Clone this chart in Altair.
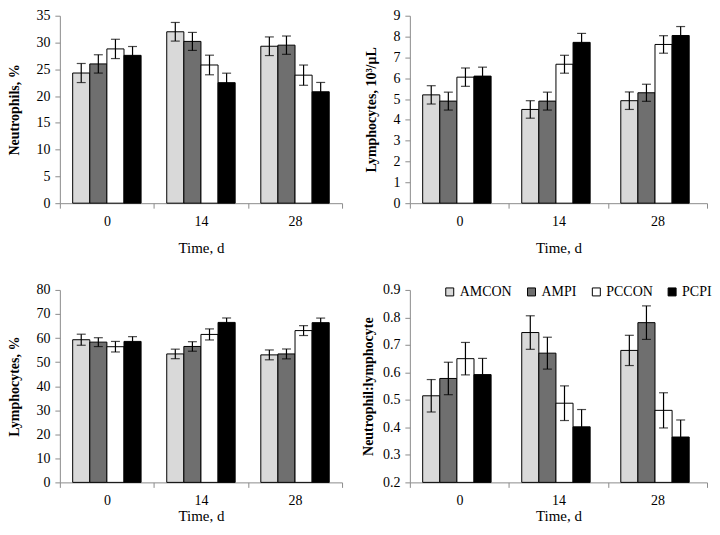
import altair as alt
import pandas as pd

days = ["0", "14", "28"]
groups = ["AMCON", "AMPI", "PCCON", "PCPI"]
colors = ["#d9d9d9", "#6f6f6f", "#ffffff", "#000000"]

# values per day (rows) and group (columns)
neut_pct = [[24.3, 26.0, 28.8, 27.6], [32.0, 30.2, 25.8, 22.5], [29.3, 29.5, 23.9, 20.8]]
neut_pct_se = [[1.78, 1.71, 1.80, 1.65], [1.74, 1.68, 1.83, 1.77], [1.74, 1.71, 1.89, 1.74]]

lym_count = [[5.20, 4.90, 6.05, 6.10], [4.50, 4.90, 6.67, 7.72], [4.92, 5.30, 7.62, 8.05]]
lym_count_se = [[0.44, 0.43, 0.44, 0.43], [0.42, 0.43, 0.43, 0.43], [0.42, 0.41, 0.42, 0.43]]

lym_pct = [[59.3, 58.3, 56.4, 58.6], [53.4, 56.5, 61.5, 66.5], [53.0, 53.4, 63.1, 66.4]]
lym_pct_se = [[2.30, 1.84, 2.19, 1.98], [1.98, 1.98, 2.30, 1.84], [2.05, 2.05, 2.05, 1.90]]

nl_ratio = [[0.515, 0.578, 0.650, 0.592], [0.745, 0.670, 0.488, 0.402], [0.680, 0.781, 0.462, 0.365]]
nl_ratio_se = [[0.059, 0.059, 0.059, 0.059], [0.061, 0.058, 0.063, 0.063], [0.055, 0.061, 0.064, 0.062]]

FONT = "Liberation Serif"
AXC = "#8c8c8c"


def panel(vals, errs, ytitle, ymin, ymax, ticks, fmt, w, h, legend=None,
          xlabpad=6, xtitlepad=12, ytitlepad=12):
    rows = []
    for i, d in enumerate(days):
        for j, g in enumerate(groups):
            v = vals[i][j]
            e = errs[i][j]
            rows.append(dict(day=d, group=g, value=v, lo=v - e, hi=v + e, base=ymin))
    df = pd.DataFrame(rows)

    xaxis = alt.Axis(labelAngle=0, tickBand="extent", domainColor=AXC, tickColor=AXC,
                     tickSize=5, labelPadding=xlabpad, titlePadding=xtitlepad,
                     labelFont=FONT, labelFontSize=14, labelColor="black",
                     titleFont=FONT, titleFontSize=15, titleFontWeight="normal",
                     titleColor="black", grid=False)
    x = alt.X("day:N", sort=days, title="Time, d",
              scale=alt.Scale(paddingInner=0, paddingOuter=0), axis=xaxis)
    xo = alt.XOffset("group:N", sort=groups,
                     scale=alt.Scale(paddingInner=0, paddingOuter=0.75))
    yscale = alt.Scale(domain=[ymin, ymax], nice=False, zero=False)
    yaxis = alt.Axis(values=ticks, format=fmt, domainColor=AXC, tickColor=AXC,
                     tickSize=5, labelPadding=5, titlePadding=ytitlepad,
                     labelFont=FONT, labelFontSize=14, labelColor="black",
                     titleFont=FONT, titleFontSize=14, titleFontWeight="bold",
                     titleColor="black", grid=False)

    def Y(f):
        return alt.Y(f, scale=yscale, title=ytitle, axis=yaxis)

    color = alt.Color("group:N", sort=groups,
                      scale=alt.Scale(domain=groups, range=colors),
                      legend=legend)
    base = alt.Chart(df)
    bars = base.mark_bar(stroke="black", strokeWidth=1).encode(
        x=x, xOffset=xo, y=Y("value:Q"), y2="base:Q", color=color)
    rule = base.mark_rule(color="black", strokeWidth=1.2).encode(
        x=x, xOffset=xo, y=Y("lo:Q"), y2="hi:Q")
    cap_lo = base.mark_tick(color="black", size=9, thickness=1.2, orient="horizontal").encode(
        x=x, xOffset=xo, y=Y("lo:Q"))
    cap_hi = base.mark_tick(color="black", size=9, thickness=1.2, orient="horizontal").encode(
        x=x, xOffset=xo, y=Y("hi:Q"))
    return alt.layer(bars, rule, cap_lo, cap_hi).properties(width=w, height=h)


leg = alt.Legend(orient="none", legendX=33, legendY=-5, direction="horizontal", title=None,
                 symbolType="square", symbolSize=64, symbolStrokeColor="black",
                 symbolStrokeWidth=1, labelFont=FONT, labelFontSize=14, labelColor="black",
                 columnPadding=12, labelOffset=3)

p1 = panel(neut_pct, neut_pct_se, "Neutrophils, %", 0, 35, list(range(0, 36, 5)), "d", 283, 188,
           ytitlepad=14)
p2 = panel(lym_count, lym_count_se, "Lymphocytes, 10³/μL", 0, 9, list(range(0, 10)), "d", 298, 188,
           ytitlepad=14)
p3 = panel(lym_pct, lym_pct_se, "Lymphocytes, %", 0, 80, list(range(0, 81, 10)), "d", 283, 193,
           xlabpad=6, xtitlepad=1, ytitlepad=14)
p4 = panel(nl_ratio, nl_ratio_se, "Neutrophil:lymphocyte", 0.2, 0.9,
           [0.2, 0.3, 0.4, 0.5, 0.6, 0.7, 0.8, 0.9], ".1f", 298, 193, legend=leg,
           xlabpad=6, xtitlepad=1, ytitlepad=7)

chart = alt.ConcatChart(
    concat=[p1, p2, p3, p4], columns=2, align="each", bounds="flush",
    spacing=alt.RowColnumber(row=87, column=68),
).resolve_scale(color="independent").properties(
    padding={"left": 0, "top": 0, "right": 0, "bottom": 0},
    background="white",
).configure_view(stroke=None)

chart.save("out.html", embed_options={"renderer": "svg", "actions": False})
